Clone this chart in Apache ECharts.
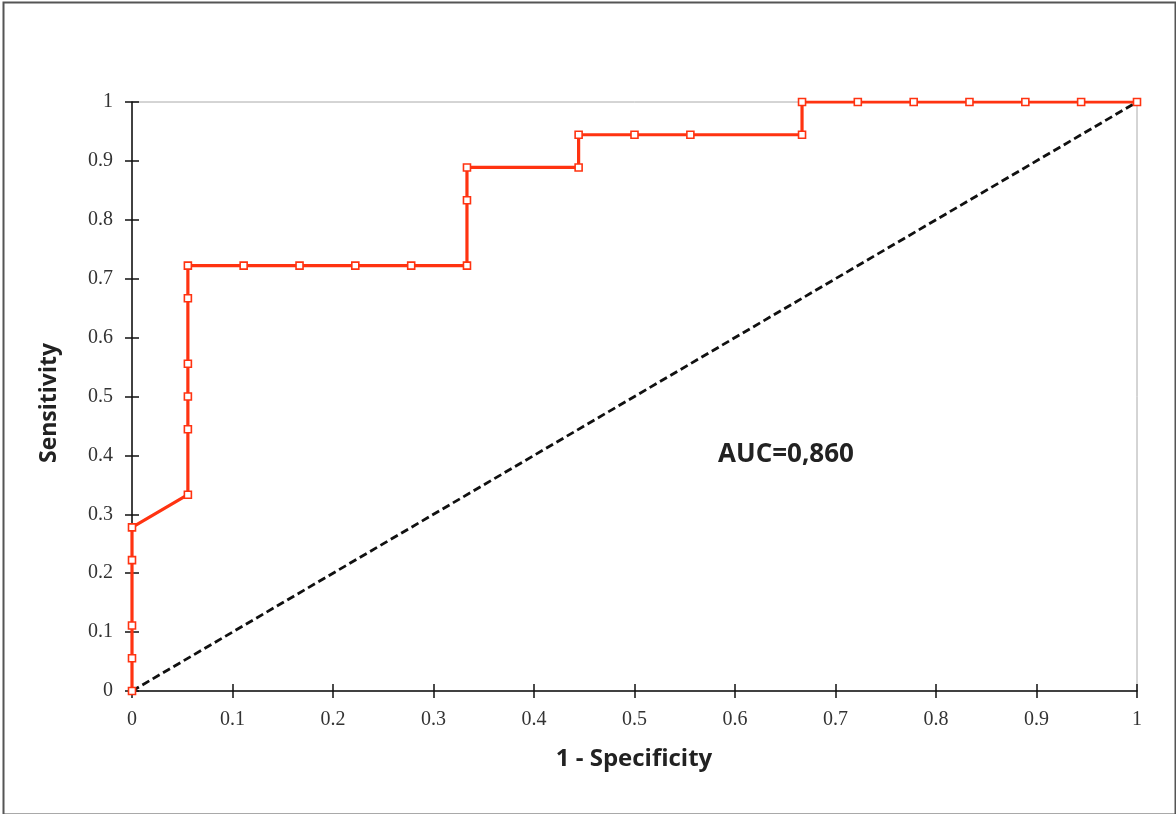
<!DOCTYPE html>
<html><head><meta charset="utf-8">
<script src="https://cdn.jsdelivr.net/npm/echarts@6/dist/echarts.min.js"></script>
<style>html,body{margin:0;padding:0;background:#fff}#c{width:1176px;height:814px}</style>
</head><body><div id="c"></div>
<script>
var fpr = [0,0,0,0,0,0.0556,0.0556,0.0556,0.0556,0.0556,0.0556,0.1111,0.1667,0.2222,0.2778,0.3333,0.3333,0.3333,0.4444,0.4444,0.5,0.5556,0.6667,0.6667,0.7222,0.7778,0.8333,0.8889,0.9444,1];
var tpr = [0,0.0556,0.1111,0.2222,0.2778,0.3333,0.4444,0.5,0.5556,0.6667,0.7222,0.7222,0.7222,0.7222,0.7222,0.7222,0.8333,0.8889,0.8889,0.9444,0.9444,0.9444,0.9444,1,1,1,1,1,1,1];
var diagX = [0,1];
var diagY = [0,1];
var xTitle = '1 - Specificity';
var yTitle = 'Sensitivity';
var aucText = 'AUC=0,860';

var chart = echarts.init(document.getElementById('c'));
var rocData = fpr.map(function(v,i){return [v,tpr[i]];});
var diagData = diagX.map(function(v,i){return [v,diagY[i]];});
var lbl = {fontFamily:'Liberation Serif', fontSize:20, color:'#333'};
var tickStyle = {color:'#111',width:1.5};
function axisBase(extra){
  return Object.assign({type:'value',min:0,max:1,interval:0.1,splitLine:{show:false}}, extra);
}
function fmt(v){return +v.toFixed(1);}
chart.setOption({
  animation:false,
  backgroundColor:'#fff',
  grid:{left:132,right:39,top:102,bottom:123,show:true,borderColor:'#aaa',borderWidth:1},
  xAxis:[
    axisBase({position:'bottom',axisLine:{lineStyle:{color:'#111',width:1.5}},axisTick:{length:7,lineStyle:tickStyle},axisLabel:Object.assign({margin:19,formatter:fmt},lbl)}),
    axisBase({position:'bottom',axisLine:{show:false},axisTick:{inside:true,length:7,lineStyle:tickStyle},axisLabel:{show:false}})
  ],
  yAxis:[
    axisBase({position:'left',axisLine:{lineStyle:{color:'#111',width:1.5}},axisTick:{length:7,lineStyle:tickStyle},axisLabel:Object.assign({margin:19,formatter:fmt},lbl)}),
    axisBase({position:'left',axisLine:{show:false},axisTick:{inside:true,length:7,lineStyle:tickStyle},axisLabel:{show:false}})
  ],
  series:[
    {type:'line',data:diagData,symbol:'none',lineStyle:{color:'#111',width:2.8,type:[8,4]},z:2},
    {type:'line',data:rocData,symbol:'rect',symbolSize:7,itemStyle:{color:'#fff',borderColor:'#ff3311',borderWidth:1.6},lineStyle:{color:'#ff3311',width:3.2},z:3}
  ],
  graphic:[
    {type:'rect',left:1,top:0,shape:{width:1172,height:812},style:{fill:'none',stroke:'#555',lineWidth:2},silent:true},
    {type:'text',x:634,y:759,style:{text:xTitle,font:'bold 24px "Open Sans", sans-serif',fill:'#222',align:'center',verticalAlign:'middle'}},
    {type:'text',x:49,y:403,rotation:Math.PI/2,style:{text:yTitle,font:'bold 23px "Open Sans", sans-serif',fill:'#222',align:'center',verticalAlign:'middle'}},
    {type:'text',x:786,y:455,style:{text:aucText,font:'bold 26px "Open Sans", sans-serif',fill:'#222',align:'center',verticalAlign:'middle'}}
  ]
});
</script></body></html>
